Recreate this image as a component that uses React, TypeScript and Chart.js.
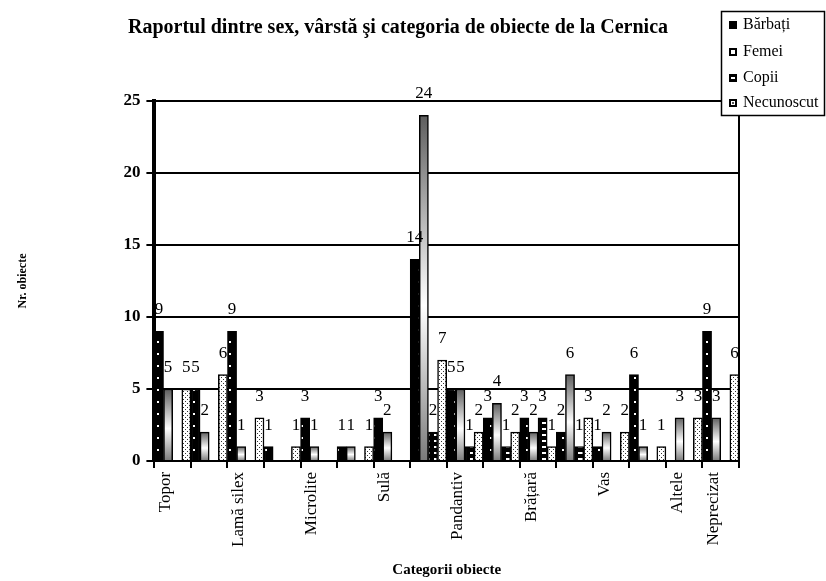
import React, { useEffect, useRef } from "react";
import { Chart, registerables } from "chart.js";

Chart.register(...registerables);

const chartTitle = "Raportul dintre sex, vârstă şi categoria de obiecte de la Cernica";
const xAxisTitle = "Categorii obiecte";
const yAxisTitle = "Nr. obiecte";
const seriesNames = ["Bărbați", "Femei", "Copii", "Necunoscut"];

// 16 category slots along the x axis; labels shown only on some slots, as in the original
const xTickLabels = [
  "Topor", "", "Lamă silex", "", "Microlite", "", "Sulă", "",
  "Pandantiv", "", "Brățară", "", "Vas", "", "Altele", "Neprecizat",
];

const barbati = [9, 5, 9, 1, 3, 1, 3, 14, 5, 3, 3, 2, 1, 6, 0, 9];
const femei = [5, 2, 1, 0, 1, 1, 2, 24, 5, 4, 2, 6, 2, 1, 3, 3];
const copii = [0, 0, 0, 0, 0, 0, 0, 2, 1, 1, 3, 1, 0, 0, 0, 0];
const necunoscut = [5, 6, 3, 1, 0, 1, 0, 7, 2, 2, 1, 3, 2, 1, 3, 6];

const yMin = 0;
const yMax = 25;
const yStep = 5;

const SERIF = "'Liberation Serif', 'Times New Roman', serif";

function makePattern(
  ctx: CanvasRenderingContext2D,
  w: number,
  h: number,
  draw: (g: CanvasRenderingContext2D) => void
) {
  const c = document.createElement("canvas");
  c.width = w;
  c.height = h;
  const g = c.getContext("2d") as CanvasRenderingContext2D;
  draw(g);
  return ctx.createPattern(c, "repeat") as CanvasPattern;
}

export default function App() {
  const canvasRef = useRef<HTMLCanvasElement | null>(null);

  useEffect(() => {
    const canvas = canvasRef.current;
    if (!canvas) return;
    const ctx = canvas.getContext("2d") as CanvasRenderingContext2D;

    const patBlack = makePattern(ctx, 9, 12, (g) => {
      g.fillStyle = "#000";
      g.fillRect(0, 0, 9, 12);
      g.fillStyle = "#fff";
      g.fillRect(4, 5, 2, 2);
    });
    const patDots = makePattern(ctx, 4, 4, (g) => {
      g.fillStyle = "#fff";
      g.fillRect(0, 0, 4, 4);
      g.fillStyle = "#333";
      g.fillRect(1, 1, 1, 1);
      g.fillRect(3, 3, 1, 1);
    });
    const patStripes = makePattern(ctx, 9, 6, (g) => {
      g.fillStyle = "#000";
      g.fillRect(0, 0, 9, 6);
      g.fillStyle = "#fff";
      g.fillRect(2, 2, 5, 2);
    });

    const gradFill = (c: any) => {
      const chart = c.chart;
      const y = chart.scales && chart.scales.y;
      if (!y || c.type !== "data" || c.raw == null) return "#bbb";
      const top = y.getPixelForValue(c.raw);
      const bottom = y.getPixelForValue(0);
      if (!isFinite(top) || !isFinite(bottom) || bottom - top < 1) return "#bbb";
      const g = chart.ctx.createLinearGradient(0, top, 0, bottom);
      g.addColorStop(0, "#5e5e5e");
      g.addColorStop(0.55, "#ffffff");
      g.addColorStop(1, "#7a7a7a");
      return g;
    };

    const nz = (arr: number[]) => arr.map((v) => (v === 0 ? null : v));

    const fills: any[] = [patBlack, gradFill, patStripes, patDots];
    const seriesData = [barbati, femei, copii, necunoscut];

    const valueLabels = {
      id: "valueLabels",
      afterDatasetsDraw(chart: any) {
        const c = chart.ctx;
        const area = chart.chartArea;
        c.save();
        // right frame line
        c.strokeStyle = "#000";
        c.lineWidth = 2;
        c.beginPath();
        c.moveTo(area.right, area.top);
        c.lineTo(area.right, area.bottom);
        c.stroke();
        c.fillStyle = "#000";
        c.font = `17px ${SERIF}`;
        c.textAlign = "center";
        c.textBaseline = "alphabetic";
        chart.data.datasets.forEach((ds: any, di: number) => {
          const meta = chart.getDatasetMeta(di);
          meta.data.forEach((el: any, i: number) => {
            const v = ds.data[i];
            if (v == null) return;
            c.fillText(String(v), el.x, el.y - 17);
          });
        });
        c.restore();
      },
    };

    const titleAndLegend = {
      id: "titleAndLegend",
      afterDraw(chart: any) {
        const c = chart.ctx;
        c.save();
        // chart title
        c.fillStyle = "#000";
        c.font = `bold 20px ${SERIF}`;
        c.textAlign = "center";
        c.textBaseline = "middle";
        c.fillText(chartTitle, 398, 28);

        // legend box
        const bx = 721.5, by = 11.5, bw = 103, bh = 104;
        c.fillStyle = "#fff";
        c.fillRect(bx, by, bw, bh);
        c.strokeStyle = "#000";
        c.lineWidth = 1.5;
        c.strokeRect(bx, by, bw, bh);
        c.font = `16px ${SERIF}`;
        c.textAlign = "left";
        c.textBaseline = "middle";
        const rows = [25, 52, 78, 103];
        seriesNames.forEach((name, i) => {
          const yy = rows[i];
          const mx = 729, my = yy - 4, s = 8;
          if (i === 0) {
            c.fillStyle = "#000";
            c.fillRect(mx, my, s, s);
          } else if (i === 1) {
            c.fillStyle = "#fff";
            c.fillRect(mx, my, s, s);
            c.lineWidth = 2;
            c.strokeStyle = "#000";
            c.strokeRect(mx + 1, my + 1, s - 2, s - 2);
          } else if (i === 2) {
            c.fillStyle = "#000";
            c.fillRect(mx, my, s, s);
            c.fillStyle = "#fff";
            c.fillRect(mx + 2, my + 3, s - 4, 2);
          } else {
            c.lineWidth = 2;
            c.strokeStyle = "#000";
            c.strokeRect(mx + 1, my + 1, s - 2, s - 2);
            c.fillStyle = "#555";
            c.fillRect(mx + 3, my + 3, 2, 2);
          }
          c.fillStyle = "#000";
          c.fillText(name, 743, yy);
        });
        c.restore();
      },
    };

    const chart = new Chart(canvas, {
      type: "bar",
      data: {
        labels: xTickLabels,
        datasets: seriesNames.map((name, i) => ({
          label: name,
          data: nz(seriesData[i]),
          backgroundColor: fills[i],
          borderColor: "#000",
          borderWidth: 1.5,
          categoryPercentage: 1,
          barPercentage: 1,
        })),
      },
      options: {
        animation: false,
        responsive: false,
        events: [],
        layout: { padding: { left: 0, right: 87, top: 101, bottom: 2 } },
        plugins: {
          legend: { display: false },
          title: { display: false },
          tooltip: { enabled: false },
        },
        scales: {
          x: {
            type: "category",
            offset: true,
            grid: {
              display: true,
              drawOnChartArea: false,
              drawTicks: true,
              tickLength: 7,
              color: "#000",
              lineWidth: 2,
              offset: true,
            },
            border: { display: true, color: "#000", width: 2 },
            ticks: {
              autoSkip: false,
              maxRotation: 90,
              minRotation: 90,
              labelOffset: -7,
              padding: 4,
              color: "#000",
              font: { family: SERIF, size: 17 },
            },
            title: {
              display: true,
              text: xAxisTitle,
              color: "#000",
              font: { family: SERIF, size: 15, weight: "bold" },
              padding: { top: 10, bottom: 0 },
            },
          },
          y: {
            min: yMin,
            max: yMax,
            ticks: {
              stepSize: yStep,
              color: "#000",
              padding: 6,
              font: { family: SERIF, size: 17, weight: "bold" },
            },
            grid: { color: "#000", lineWidth: 2, tickLength: 8 },
            border: { display: true, color: "#000", width: 4 },
            title: {
              display: true,
              text: yAxisTitle,
              color: "#000",
              font: { family: SERIF, size: 12, weight: "bold" },
              padding: { top: 16, bottom: 87 },
            },
          },
        },
      },
      plugins: [valueLabels, titleAndLegend],
    } as any);

    return () => chart.destroy();
  }, []);

  return (
    <div
      style={{
        position: "fixed",
        left: 0,
        top: 0,
        width: 826,
        height: 581,
        background: "#fff",
      }}
    >
      <canvas ref={canvasRef} width={826} height={581} />
    </div>
  );
}
